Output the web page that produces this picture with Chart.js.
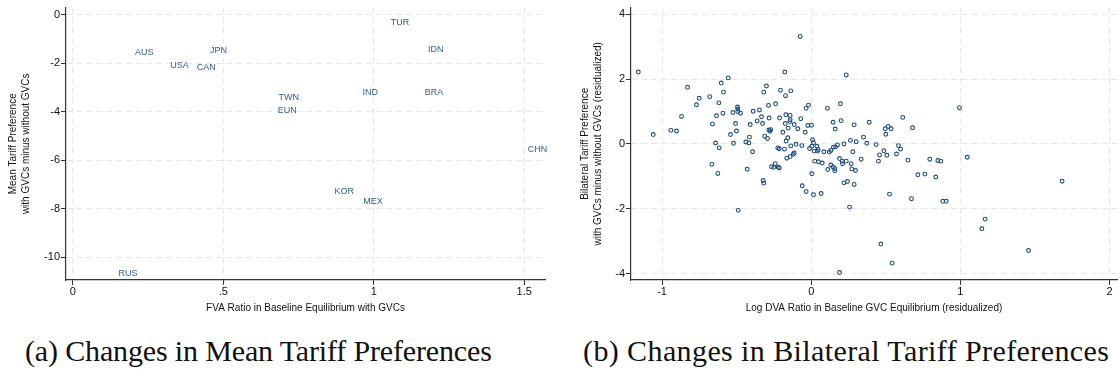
<!DOCTYPE html>
<html>
<head>
<meta charset="utf-8">
<script src="https://cdn.jsdelivr.net/npm/chart.js@4.4.1/dist/chart.umd.min.js"></script>
<style>
  html, body { margin: 0; padding: 0; background: #fff; }
  #page { position: relative; width: 1120px; height: 391px; overflow: hidden; }
  .panel { position: absolute; top: 0; }
  .caption {
    position: absolute; top: 334px; white-space: nowrap;
    font-family: "Liberation Serif", "DejaVu Serif", serif;
    font-size: 30px; line-height: 34px; color: #111;
  }
</style>
</head>
<body>
<div id="page">
  <div class="panel" style="left:0"><canvas id="chartA" width="555" height="320"></canvas></div>
  <div class="panel" style="left:560px"><canvas id="chartB" width="560" height="320"></canvas></div>
  <div class="caption" style="left:25px; letter-spacing:-0.15px">(a) Changes in Mean Tariff Preferences</div>
  <div class="caption" style="left:583px; letter-spacing:0.4px">(b) Changes in Bilateral Tariff Preferences</div>
</div>
<script>
// ---- panel (a): mean tariff preference change by country ----
const countries = ['AUS', 'USA', 'CAN', 'JPN', 'TUR', 'IDN', 'IND', 'BRA', 'TWN', 'EUN', 'CHN', 'KOR', 'MEX', 'RUS'];
const fvaRatio = [0.237, 0.354, 0.443, 0.484, 1.087, 1.206, 0.988, 1.200, 0.717, 0.712, 1.544, 0.902, 0.997, 0.183];
const meanPrefChange = [-1.57, -2.12, -2.18, -1.50, -0.34, -1.44, -3.20, -3.20, -3.40, -3.95, -5.55, -7.28, -7.70, -10.67];

const xTicksA = [0, 0.5, 1, 1.5];
const xTickLabelsA = ['0', '.5', '1', '1.5'];
const yTicksA = [-10, -8, -6, -4, -2, 0];
const yTickLabelsA = ['-10', '-8', '-6', '-4', '-2', '0'];

// ---- panel (b): bilateral pairs, residualized ----
const dvaLogRatio = [
  -0.177, -0.556, -0.603, -0.829, -0.300, -0.206, -0.137, -0.318, -0.588, -0.172,
  -0.680, -0.751, -0.619, -0.239, -0.769, -0.286, -0.494, -0.492, -0.347, -0.389,
  -0.492, -0.474, -0.525, -0.592, -0.869, -0.635, -0.333, -0.170, -0.141, -0.212,
  -0.282, -0.141, -0.362, -0.326, -0.507, -0.662, -0.409, -0.174, -0.143, -0.114,
  -0.070, -0.154, -0.090, -0.501, -0.941, -0.903, -0.284, -0.271, -0.277, -0.190,
  -1.059, -0.541, -0.311, -0.293, -0.157, -0.168, -0.414, -0.641, -0.521, -0.438,
  -0.418, -0.101, -0.137, -0.617, -0.224, -0.214, -0.179, -0.393, -0.114, -0.121,
  -0.141, -0.164, -0.241, -0.266, -0.251, -0.221, -0.214, -0.666, -0.429, -0.626,
  -0.322, -0.318, -0.489,
  0.235, 0.196, -0.018, -0.034, 0.109, 0.614, 0.147, 0.201, 0.389, -0.023,
  0.002, 0.288, 0.161, 0.496, 0.516, 0.536, 0.679, -0.040, 0.500, 0.351,
  0.263, 0.302, 0.373, 0.436, -0.063, 0.009, 0.015, 0.004, -0.011, 0.038,
  0.047, 0.020, 0.042, 0.085, 0.121, 0.132, 0.149, 0.163, 0.176, 0.219,
  0.279, 0.487, 0.458, 0.507, 0.572, 0.585, 0.599, 0.335, 0.451, 0.648,
  0.795, 0.849, 0.869, 0.024, 0.049, 0.074, 0.190, 0.208, 0.235, 0.210,
  0.268, 0.132, 0.147, 0.158, 0.158, 0.111, 0.272, 0.297, 0.004, 0.715,
  0.762, 0.835, 0.219, 0.243, 0.288, -0.060, -0.034, 0.015, 0.067, 0.525,
  0.672, 0.882, 0.905, 0.257, 0.467,
  -1.159, -0.074, 0.994, 1.046, 1.166, 1.144, 1.457, 1.682, 0.543, 0.190
];
const bilatPrefChange = [
  2.22, 2.04, 1.88, 1.75, 1.79, 1.66, 1.64, 1.60, 1.60, 1.49,
  1.46, 1.41, 1.27, 1.24, 1.21, 1.19, 1.14, 1.08, 1.05, 1.01,
  1.00, 0.95, 0.97, 0.95, 0.85, 0.87, 0.84, 0.90, 0.88, 0.80,
  0.80, 0.75, 0.71, 0.63, 0.63, 0.62, 0.60, 0.63, 0.69, 0.60,
  0.78, 0.49, 0.47, 0.40, 0.42, 0.40, 0.43, 0.44, 0.39, 0.36,
  0.29, 0.29, 0.24, 0.17, 0.19, 0.09, 0.21, 0.03, 0.02, 0.06,
  0.03, -0.01, -0.06, -0.12, -0.12, -0.15, -0.16, -0.24, -0.28, -0.32,
  -0.39, -0.44, -0.61, -0.70, -0.72, -0.72, -0.74, -0.63, -0.78, -0.91,
  -1.13, -1.21, -2.05,
  2.13, 1.24, 1.20, 1.10, 1.10, 0.82, 0.67, 0.72, 0.67, 0.57,
  0.58, 0.59, 0.46, 0.47, 0.54, 0.47, 0.50, 0.36, 0.30, 0.21,
  0.11, 0.07, 0.02, -0.02, -0.05, 0.13, 0.04, -0.07, -0.14, -0.07,
  -0.17, -0.22, -0.22, -0.24, -0.25, -0.20, -0.10, -0.09, -0.03, 0.00,
  -0.24, -0.21, -0.34, -0.35, -0.31, -0.05, -0.16, -0.47, -0.53, -0.50,
  -0.47, -0.51, -0.53, -0.53, -0.55, -0.59, -0.45, -0.53, -0.53, -0.61,
  -0.61, -0.65, -0.71, -0.76, -0.83, -0.79, -0.77, -0.82, -0.92, -0.95,
  -0.93, -1.02, -1.20, -1.16, -1.25, -1.29, -1.47, -1.57, -1.53, -1.55,
  -1.69, -1.77, -1.77, -1.95, -3.09,
  2.22, 3.32, 1.12, -0.41, -2.32, -2.62, -3.29, -1.15, -3.68, -3.97
];

const xTicksB = [-1, 0, 1, 2];
const xTickLabelsB = ['-1', '0', '1', '2'];
const yTicksB = [-4, -2, 0, 2, 4];
const yTickLabelsB = ['-4', '-2', '0', '2', '4'];

// stata-ish look
const NAVY = '#1f4d7c';
const LABEL_BLUE = '#32608f';
const AXIS = '#333';
const GRID = '#e6e6e6';
const SANS = '"Liberation Sans", Arial, sans-serif';

function axisOpts(opts) {
  const { min, max, ticks, labels, title, size, horizontal, titlePad } = opts;
  return {
    type: 'linear',
    min: min,
    max: max,
    afterBuildTicks: s => { s.ticks = ticks.map(v => ({ value: v })); },
    afterFit: s => { if (horizontal) s.height = size; else s.width = size; },
    ticks: {
      includeBounds: false,
      maxRotation: 0,
      autoSkip: false,
      padding: horizontal ? 0 : 1,
      color: '#111',
      font: { family: SANS, size: 11 },
      callback: (v, i) => labels[i]
    },
    grid: { color: GRID, lineWidth: 1, tickColor: AXIS, tickLength: 5, tickWidth: 1 },
    border: { display: true, color: AXIS, width: 1.2, dash: [6, 4] },
    title: {
      display: true,
      text: title,
      color: '#111',
      font: { family: SANS, size: 10, lineHeight: horizontal ? 1.2 : 1.35 },
      padding: titlePad
    }
  };
}

// draws the country codes at each (x, y) of panel a
const countryLabels = {
  id: 'countryLabels',
  afterDatasetsDraw(chart) {
    const ctx = chart.ctx;
    const meta = chart.getDatasetMeta(0);
    ctx.save();
    ctx.font = '9px ' + SANS;
    ctx.fillStyle = LABEL_BLUE;
    ctx.textAlign = 'center';
    ctx.textBaseline = 'middle';
    meta.data.forEach((pt, i) => ctx.fillText(countries[i], pt.x, pt.y));
    ctx.restore();
  }
};

new Chart(document.getElementById('chartA'), {
  type: 'scatter',
  data: {
    datasets: [{
      data: fvaRatio.map((x, i) => ({ x: x, y: meanPrefChange[i] })),
      pointRadius: 0,
      pointHoverRadius: 0
    }]
  },
  options: {
    responsive: false,
    animation: false,
    layout: { padding: { top: 5, right: 10, left: 0, bottom: 0 } },
    plugins: { legend: { display: false }, tooltip: { enabled: false } },
    scales: {
      x: axisOpts({ min: -0.023, max: 1.569, ticks: xTicksA, labels: xTickLabelsA, horizontal: true, size: 40,
        title: 'FVA Ratio in Baseline Equilibrium with GVCs', titlePad: { top: 0, bottom: 6 } }),
      y: axisOpts({ min: -10.94, max: 0.285, ticks: yTicksA, labels: yTickLabelsA, horizontal: false, size: 66,
        title: ['Mean Tariff Preference', 'with GVCs minus without GVCs'], titlePad: { top: 6, bottom: 0 } })
    }
  },
  plugins: [countryLabels]
});

new Chart(document.getElementById('chartB'), {
  type: 'scatter',
  data: {
    datasets: [{
      data: dvaLogRatio.map((x, i) => ({ x: x, y: bilatPrefChange[i] })),
      pointRadius: 1.9,
      pointBorderWidth: 1.1,
      pointBorderColor: NAVY,
      pointBackgroundColor: 'rgba(255,255,255,0)',
      pointHoverRadius: 1.9
    }]
  },
  options: {
    responsive: false,
    animation: false,
    layout: { padding: { top: 5, right: 3, left: 0, bottom: 0 } },
    plugins: { legend: { display: false }, tooltip: { enabled: false } },
    scales: {
      x: axisOpts({ min: -1.208, max: 2.05, ticks: xTicksB, labels: xTickLabelsB, horizontal: true, size: 40,
        title: 'Log DVA Ratio in Baseline GVC Equilibrium (residualized)', titlePad: { top: 0, bottom: 6 } }),
      y: axisOpts({ min: -4.2, max: 4.21, ticks: yTicksB, labels: yTickLabelsB, horizontal: false, size: 71,
        title: ['Bilateral Tariff Preference', 'with GVCs minus without GVCs (residualized)'], titlePad: { top: 18, bottom: 0 } })
    }
  }
});
</script>
</body>
</html>
